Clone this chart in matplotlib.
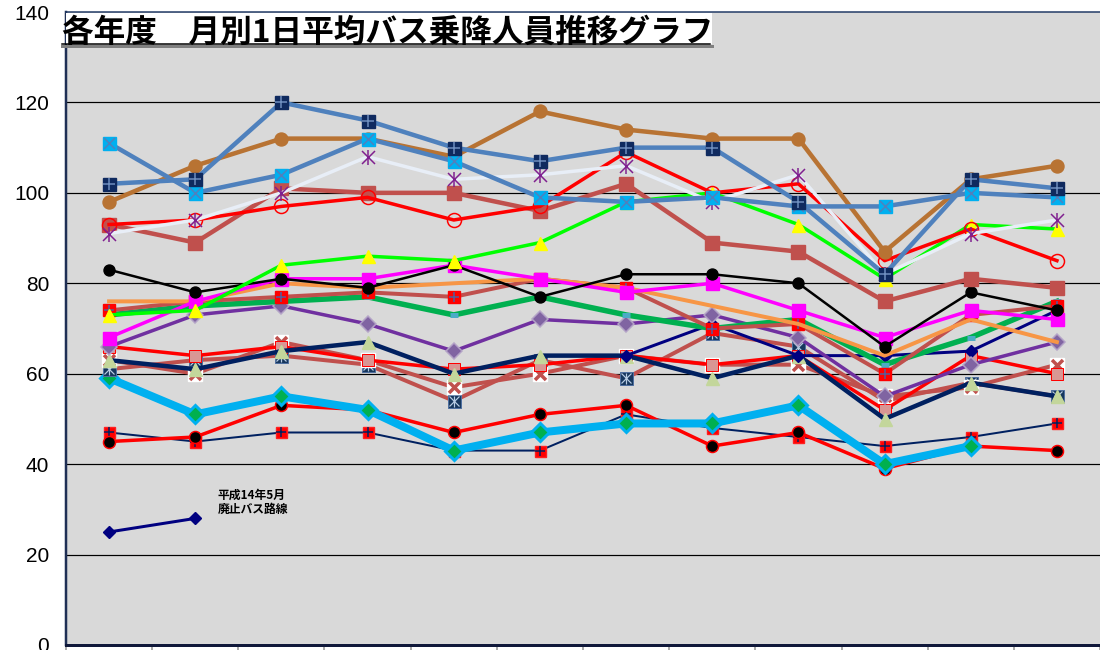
import numpy as np
import matplotlib
matplotlib.use('Agg')
from matplotlib import pyplot as plt

plt.rcParams['font.family'] = ['Liberation Sans', 'DejaVu Sans']

months = ['4月', '5月', '6月', '7月', '8月', '9月', '10月', '11月', '12月', '1月', '2月', '3月']
nan = np.nan

# values (persons / day)
navy_sq = [102, 103, 120, 116, 110, 107, 110, 110, 98, 82, 103, 101]
cyan_sq = [111, 100, 104, 112, 107, 99, 98, 99, 97, 97, 100, 99]
brown_circ = [98, 106, 112, 112, 108, 118, 114, 112, 112, 87, 103, 106]
white_star = [91, 94, 100, 108, 103, 104, 106, 98, 104, 82, 91, 94]
red_ocirc = [93, 94, 97, 99, 94, 97, 109, 100, 102, 85, 92, 85]
rose_sq = [93, 89, 101, 100, 100, 96, 102, 89, 87, 76, 81, 79]
lime_tri = [73, 74, 84, 86, 85, 89, 98, 100, 93, 81, 93, 92]
black_circ = [83, 78, 81, 79, 84, 77, 82, 82, 80, 66, 78, 74]
magenta_sq = [68, 76, 81, 81, 84, 81, 78, 80, 74, 68, 74, 72]
orange_line = [76, 76, 80, 79, 80, 81, 79, 75, 71, 64, 72, 67]
green_line = [73, 75, 76, 77, 73, 77, 73, 70, 72, 62, 68, 76]
rose_redsq = [74, 76, 77, 78, 77, 81, 79, 70, 71, 60, 73, 75]
purple_dia = [66, 73, 75, 71, 65, 72, 71, 73, 68, 55, 62, 67]
navy_tri = [63, 61, 65, 67, 60, 64, 64, 59, 64, 50, 58, 55]
navy_dia = [nan, nan, nan, nan, nan, nan, 64, 71, 64, 64, 65, 74]
red_pinksq = [66, 64, 66, 63, 61, 62, 64, 62, 64, 52, 64, 60]
rose_x = [63, 60, 67, 63, 57, 60, 64, 62, 62, 55, 57, 62]
rose_starsq = [61, 63, 64, 62, 54, 63, 59, 69, 66, 54, 58, 55]
sky_dia = [59, 51, 55, 52, 43, 47, 49, 49, 53, 40, 44, nan]
red_blkcirc = [45, 46, 53, 52, 47, 51, 53, 44, 47, 39, 44, 43]
navy_redsq = [47, 45, 47, 47, 43, 43, 51, 48, 46, 44, 46, 49]
abolished = [25, 28] + [nan] * 10

x = np.arange(len(months))
px = 0.72  # points per pixel at 100 dpi

fig = plt.figure(figsize=(11, 6.5), dpi=100)
ax = fig.add_axes([66 / 1100, 5 / 650, 1 - 66 / 1100, (645 - 12) / 650])
ax.set_facecolor('#d9d9d9')
ax.set_xlim(-0.5, 11.33)
ax.set_ylim(0, 140)
ax.set_yticks(range(0, 141, 20))
ax.set_xticks(np.arange(-0.5, 11.6, 1.0))
ax.set_xticklabels([])
for v in range(20, 140, 20):
    ax.axhline(v, color='black', lw=1.2 * px, zorder=1)
ax.tick_params(axis='y', length=0, pad=12, labelsize=15)
ax.tick_params(axis='x', length=5 * px, width=1.5 * px, color='#909090', direction='out')
ax.spines['left'].set_color('#1f2f55')
ax.spines['left'].set_linewidth(2.5 * px)
ax.spines['bottom'].set_color('#10183a')
ax.spines['bottom'].set_linewidth(3 * px)
ax.spines['top'].set_color('#1f3864')
ax.spines['top'].set_linewidth(1.5 * px)
ax.spines['right'].set_visible(False)


def line(vals, color, lw, **kw):
    ax.plot(x, vals, color=color, lw=lw * px, solid_joinstyle='round', **kw)


def overlay(vals, marker, color, ms, mew, z=5):
    ax.plot(x, vals, ls='none', marker=marker, color=color, ms=ms * px, mew=mew * px, zorder=z)


# lower group
line(navy_redsq, '#002060', 2, marker='s', ms=11 * px, mfc='#ff0000', mec='#ff2020', zorder=3)
overlay(navy_redsq, '+', '#002060', 10, 1.5, 3.1)
line(red_blkcirc, '#ff0000', 3.5, marker='o', ms=12 * px, mfc='black', mec='#ff0000', mew=1.5 * px, zorder=3.2)
line(sky_dia, '#00b0f0', 8, marker='D', ms=13 * px, mfc='#00b050', mec='#00b0f0', mew=3 * px, zorder=3.4)
line(abolished, '#000080', 3, marker='D', ms=9 * px, mfc='#000080', mec='#000080', zorder=3)

# middle group
line(rose_starsq, '#c0504d', 4, marker='s', ms=13 * px, mfc='#17375e', mec='#4f6f9f', mew=1 * px, zorder=3.5)
overlay(rose_starsq, 'x', '#b8cce4', 10, 1.2, 3.51)
overlay(rose_starsq, '|', '#b8cce4', 11, 1.2, 3.52)
line(rose_x, '#c0504d', 4, marker='s', ms=14 * px, mfc='white', mec='white', zorder=3.6)
overlay(rose_x, 'x', '#c0504d', 11, 3.5, 3.61)
line(red_pinksq, '#ff0000', 3.5, marker='s', ms=12 * px, mfc='#d99694', mec='#ff0000', mew=1 * px, zorder=3.7)
line(navy_tri, '#002060', 4.5, marker='^', ms=13 * px, mfc='#c3d69b', mec='#c3d69b', zorder=3.8)
line(navy_dia, '#000080', 3, marker='D', ms=8 * px, mfc='#000080', mec='#000080', zorder=3.8)
line(purple_dia, '#7030a0', 3.5, marker='D', ms=11 * px, mfc='#8064a2', mec='#b3a2c7', mew=1.5 * px, zorder=3.9)
line(green_line, '#00b050', 5.5, marker='_', ms=8 * px, mec='#4bacc6', mew=5 * px, zorder=4)
line(rose_redsq, '#c0504d', 4, marker='s', ms=12 * px, mfc='#ff0000', mec='#ff0000', zorder=4.1)
overlay(rose_redsq, '+', '#4f5f9f', 10, 1.5, 4.11)
line(orange_line, '#f79646', 4, zorder=4.2)
line(magenta_sq, '#ff00ff', 3.5, marker='s', ms=13 * px, mfc='#ff00ff', mec='#ff00ff', zorder=4.3)
line(black_circ, 'black', 2.5, marker='o', ms=11 * px, mfc='black', mec='black', zorder=4.4)
line(lime_tri, '#00ff00', 3.5, marker='^', ms=13 * px, mfc='#ffff00', mec='#ffff00', zorder=4.5)

# upper group
line(rose_sq, '#c0504d', 4.5, marker='s', ms=14 * px, mfc='#c0504d', mec='#c0504d', zorder=4.6)
line(red_ocirc, '#ff0000', 3.5, marker='o', ms=14 * px, mfc='none', mec='#ff0000', mew=1.5 * px, zorder=4.7)
line(white_star, '#e8eef7', 3.5, zorder=4.8)
overlay(white_star, 'x', '#7f1f8f', 13, 1.5, 4.81)
overlay(white_star, '|', '#7f1f8f', 15, 1.5, 4.82)
line(brown_circ, '#b87333', 4.5, marker='o', ms=13 * px, mfc='#b87333', mec='#b87333', zorder=4.9)
line(cyan_sq, '#4f81bd', 4.5, marker='s', ms=13 * px, mfc='#00b0f0', mec='#00b0f0', zorder=5)
overlay(cyan_sq, 'x', '#4f81bd', 11, 1.5, 5.01)
line(navy_sq, '#4f81bd', 4.5, marker='s', ms=13 * px, mfc='#0f2a5f', mec='#0f2a5f', zorder=5.1)
overlay(navy_sq, '+', '#6f8fbf', 12, 1.5, 5.11)

ax.text(1.26, 31.6, '平成14年5月\n廃止バス路線', fontsize=8.5, fontweight='bold',
        family=['Noto Sans CJK JP', 'DejaVu Sans'], va='center', ha='left', linespacing=1.15, zorder=6)

# title box with shadowed underline
fig.patches.append(plt.Rectangle((66 / 1100, 1 - 44 / 650), (712 - 66) / 1100, 31 / 650,
                                 transform=fig.transFigure, facecolor='white', edgecolor='none', zorder=10))
fig.lines.append(plt.Line2D([62 / 1100, 712 / 1100], [1 - 46 / 650] * 2, transform=fig.transFigure,
                            color='#808080', lw=3 * px, zorder=11))
fig.lines.append(plt.Line2D([62 / 1100, 710 / 1100], [1 - 43.5 / 650] * 2, transform=fig.transFigure,
                            color='black', lw=1.5 * px, zorder=12))
fig.text(62 / 1100, 1 - 42 / 650, '各年度　月別1日平均バス乗降人員推移グラフ', fontsize=22.8, fontweight='bold',
         family=['Noto Sans CJK JP', 'DejaVu Sans'], ha='left', va='baseline', zorder=13)

fig.savefig('out.png', dpi=100)
